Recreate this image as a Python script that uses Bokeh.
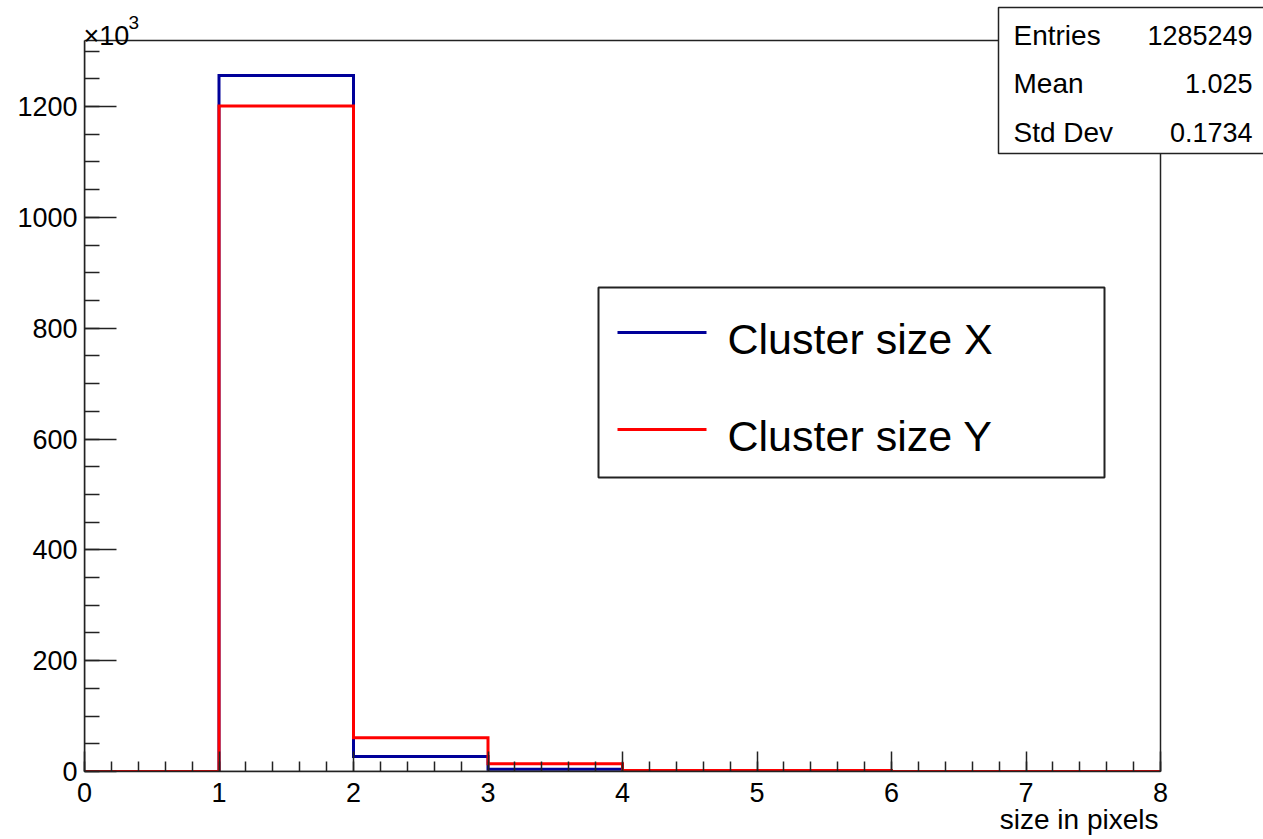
from bokeh.plotting import figure
from bokeh.models import Range1d, SingleIntervalTicker, Label, BoxAnnotation, Title
from bokeh.embed import file_html
from bokeh.resources import INLINE

# ---------------- data (counts in units of 10^3) ----------------
bin_edges = [0, 1, 2, 3, 4, 5, 6, 7, 8]
cluster_size_x = [0, 1256, 27, 4, 0.5, 0.3, 0, 0]
cluster_size_y = [0, 1201, 61, 14, 2, 2, 0, 0]
series_names = ["Cluster size X", "Cluster size Y"]
series_colors = ["#000099", "#ff0000"]
stats_names = ["Entries", "Mean", "Std Dev"]
stats_values = ["1285249", "1.025", "0.1734"]
x_axis_title = "size in pixels"
y_exponent_base = "\u00d710"
y_exponent_power = "3"

FONT = "Liberation Sans"
AXC = "#222222"

W, H = 1263, 839
# visual frame (pixels on the canvas)
VL, VR, VT, VB = 84, 1160, 40, 771
X_MIN, X_MAX = 0, 8
Y_MIN, Y_TOP = 0, 1319.1
SX = (VR - VL) / (X_MAX - X_MIN)
SY = (VB - VT) / (Y_TOP - Y_MIN)


def dx(px):
    return X_MIN + (px - VL) / SX


def dy(py):
    return Y_MIN + (VB - py) / SY


# the bokeh frame extends to the right and top canvas edges so that the
# statistics box and the exponent label are not clipped
p = figure(width=W, height=H, output_backend="svg", toolbar_location=None,
           title=None, x_range=Range1d(X_MIN, dx(W)), y_range=Range1d(Y_MIN, dy(0)),
           min_border_left=VL, min_border_right=0,
           min_border_top=0, min_border_bottom=H - VB)
p.background_fill_color = "white"
p.border_fill_color = "white"
p.xgrid.visible = False
p.ygrid.visible = False
p.outline_line_color = None

# axes
p.xaxis.ticker = SingleIntervalTicker(interval=1, num_minor_ticks=5)
p.yaxis.ticker = SingleIntervalTicker(interval=200, num_minor_ticks=4)
p.xaxis.bounds = (X_MIN, X_MAX)
p.yaxis.bounds = (Y_MIN, Y_TOP)
for ax in (p.xaxis, p.yaxis):
    ax.axis_line_color = AXC
    ax.axis_line_width = 1.5
    ax.major_tick_line_color = AXC
    ax.minor_tick_line_color = AXC
    ax.major_tick_line_width = 1.5
    ax.minor_tick_line_width = 1.5
    ax.major_tick_out = 0
    ax.minor_tick_out = 0
    ax.major_label_text_font = FONT
    ax.major_label_text_font_size = "27px"
    ax.major_label_text_color = "black"
p.xaxis.major_tick_in = 20
p.xaxis.minor_tick_in = 10
p.yaxis.major_tick_in = 32
p.yaxis.minor_tick_in = 15
p.xaxis.major_label_standoff = 11
p.yaxis.major_label_standoff = 7

# x axis title, right aligned under the axis end
p.add_layout(Title(text=x_axis_title, align="right", offset=W - 1158,
                   standoff=-6, text_font=FONT, text_font_size="28px",
                   text_font_style="normal", text_color="black"), "below")

# frame box
p.add_layout(BoxAnnotation(left=X_MIN, right=X_MAX, bottom=Y_MIN, top=Y_TOP,
                           fill_alpha=0, line_color=AXC, line_alpha=1.0,
                           line_width=1.5))

# histograms (step outlines)
for vals, col in zip([cluster_size_x, cluster_size_y], series_colors):
    p.step(x=bin_edges, y=list(vals) + [vals[-1]], mode="after",
           line_color=col, line_width=3, line_join="miter")

# exponent label (x10^3)
p.add_layout(Label(x=dx(83), y=dy(35), text=y_exponent_base, text_font=FONT,
                   text_font_size="27px", text_color="black",
                   text_baseline="alphabetic"))
p.add_layout(Label(x=dx(128), y=dy(22), text=y_exponent_power, text_font=FONT,
                   text_font_size="19px", text_color="black",
                   text_baseline="alphabetic"))

# legend
p.add_layout(BoxAnnotation(left=dx(598), right=dx(1104), top=dy(287), bottom=dy(477),
                           fill_color="white", fill_alpha=1.0,
                           line_color=AXC, line_alpha=1.0, line_width=2))
leg_rows = [332, 429]
for name, col, ry in zip(series_names, series_colors, leg_rows):
    p.segment(x0=[dx(617)], y0=[dy(ry)], x1=[dx(706)], y1=[dy(ry)],
              line_color=col, line_width=3, level="overlay")
    p.add_layout(Label(x=dx(727), y=dy(ry + 6), text=name, text_font=FONT,
                       text_font_size="43px", text_color="black",
                       text_baseline="middle", level="overlay"))

# statistics box
p.add_layout(BoxAnnotation(left=dx(998), right=dx(1280), top=dy(7), bottom=dy(153),
                           fill_color="white", fill_alpha=1.0,
                           line_color=AXC, line_alpha=1.0, line_width=1.5,
                           level="overlay"))
stat_rows = [35, 83, 132]
for nm, vl, ry in zip(stats_names, stats_values, stat_rows):
    p.add_layout(Label(x=dx(1013), y=dy(ry), text=nm, text_font=FONT,
                       text_font_size="28px", text_color="black",
                       text_baseline="middle", level="overlay"))
    p.add_layout(Label(x=dx(1252), y=dy(ry), text=vl, text_font=FONT,
                       text_font_size="27px", text_color="black",
                       text_align="right", text_baseline="middle", level="overlay"))

open("out.html", "w").write(file_html(p, INLINE))
